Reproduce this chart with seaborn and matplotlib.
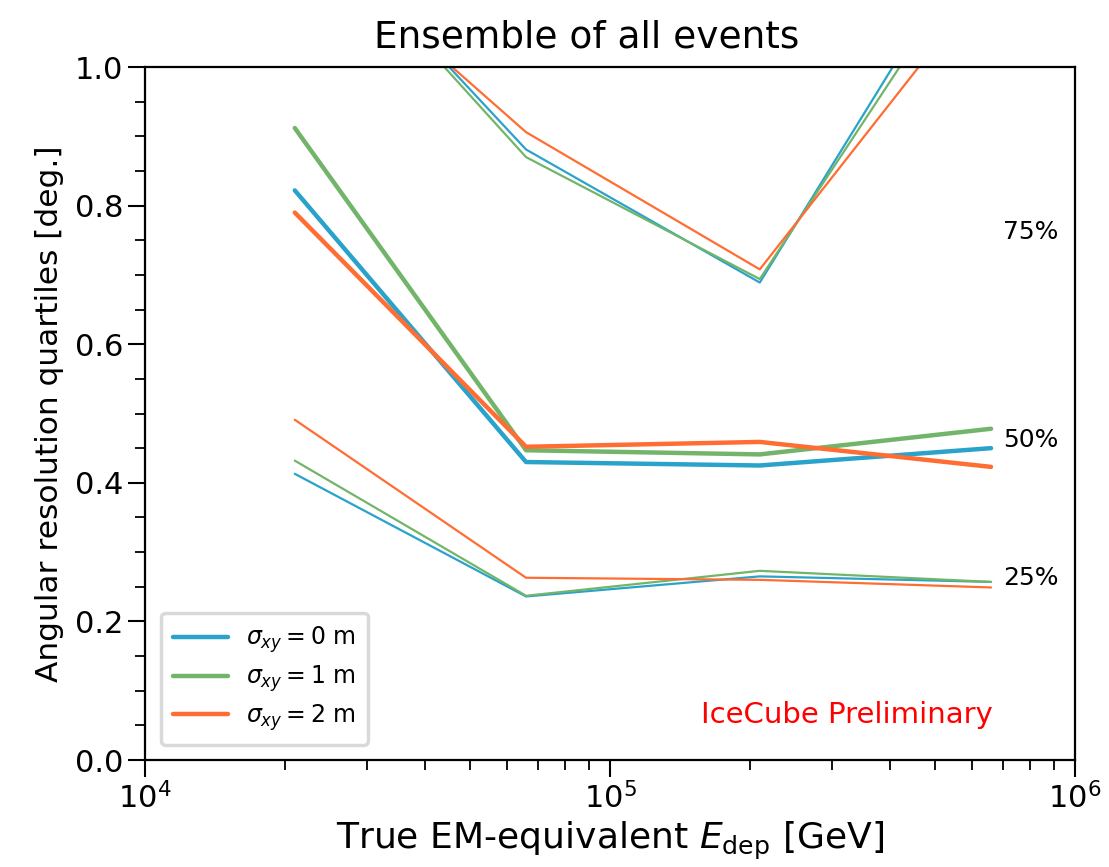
import numpy as np
import pandas as pd
import matplotlib
matplotlib.use("Agg")
import matplotlib.pyplot as plt
import seaborn as sns

# Energy bin centres [GeV]
energy = [2.1e4, 6.6e4, 2.1e5, 6.6e5]

# Angular resolution quartiles [deg] per transverse smearing
sigma_labels = [r"$\sigma_{xy} = 0$ m", r"$\sigma_{xy} = 1$ m", r"$\sigma_{xy} = 2$ m"]

q25_s0 = [0.413, 0.236, 0.265, 0.257]
q25_s1 = [0.432, 0.237, 0.273, 0.257]
q25_s2 = [0.491, 0.263, 0.260, 0.249]

q50_s0 = [0.822, 0.430, 0.425, 0.450]
q50_s1 = [0.912, 0.447, 0.441, 0.478]
q50_s2 = [0.790, 0.452, 0.459, 0.423]

q75_s0 = [1.239, 0.881, 0.689, 1.230]
q75_s1 = [1.238, 0.870, 0.694, 1.200]
q75_s2 = [1.200, 0.906, 0.708, 1.133]

colors = ["#2aa3cb", "#72b56a", "#ff6d33"]

rows = []
for quart, series in [("25%", [q25_s0, q25_s1, q25_s2]),
                      ("50%", [q50_s0, q50_s1, q50_s2]),
                      ("75%", [q75_s0, q75_s1, q75_s2])]:
    for lab, vals in zip(sigma_labels, series):
        for e, v in zip(energy, vals):
            rows.append({"energy": e, "res": v, "sigma": lab, "quartile": quart})
df = pd.DataFrame(rows)

sns.set_style("ticks")
plt.rcParams["font.family"] = ["DejaVu Sans"]
plt.rcParams["mathtext.fontset"] = "dejavusans"
for key in ["text.color", "axes.labelcolor", "xtick.color", "ytick.color"]:
    plt.rcParams[key] = "black"

fig = plt.figure(figsize=(11.09, 8.67), dpi=100)
ax = fig.add_axes([0.1307, 0.1234, 0.8386, 0.7993])

palette = dict(zip(sigma_labels, colors))
for quart, lw in [("75%", 1.6), ("25%", 1.6), ("50%", 3.2)]:
    sub = df[df["quartile"] == quart]
    sns.lineplot(data=sub, x="energy", y="res", hue="sigma", palette=palette,
                 linewidth=lw, ax=ax, legend=(quart == "50%"), estimator=None,
                 sort=False)

ax.set_xscale("log")
ax.set_xlim(1e4, 1e6)
ax.set_ylim(0, 1.0)
ax.set_yticks([0.0, 0.2, 0.4, 0.6, 0.8, 1.0])
ax.yaxis.set_minor_locator(matplotlib.ticker.MultipleLocator(0.05))

for s in ax.spines.values():
    s.set_linewidth(1.6)
    s.set_color("black")

ax.tick_params(axis="both", which="major", direction="out", length=12, width=1.5,
               labelsize=22, colors="black")
ax.tick_params(axis="both", which="minor", direction="out", length=7, width=1.3)

ax.set_xlabel(r"True EM-equivalent $E_{\mathrm{dep}}$ [GeV]", fontsize=26, labelpad=4)
ax.set_ylabel("Angular resolution quartiles [deg.]", fontsize=22.5, labelpad=8)
ax.set_title("Ensemble of all events", fontsize=27, pad=14, x=0.475)

# quartile annotations on the right
for txt, y in [("75%", 0.762), ("50%", 0.462), ("25%", 0.263)]:
    ax.text(7.0e5, y, txt, fontsize=18, va="center", ha="left")

ax.text(0.912, 0.065, "IceCube Preliminary", color="red", fontsize=21,
        ha="right", va="center", transform=ax.transAxes)

handles, labels = ax.get_legend_handles_labels()
leg = ax.legend(handles, labels, loc="lower left", fontsize=17, frameon=True,
                fancybox=True, borderpad=0.5, handlelength=2.3, labelspacing=0.35,
                bbox_to_anchor=(0.005, 0.005))
for h in leg.get_lines():
    h.set_linewidth(3.2)
leg.get_frame().set_edgecolor("#d0d0d0")
leg.get_frame().set_linewidth(2.5)

fig.savefig("out.png", dpi=100)
